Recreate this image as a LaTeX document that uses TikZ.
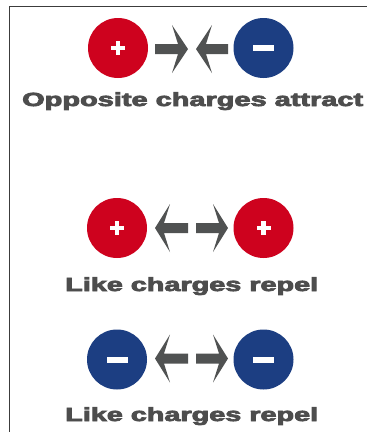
\documentclass[tikz,border=0pt]{standalone}
\usepackage{fontspec}
\usepackage{graphicx}
\newfontfamily\heavy{Liberation Sans}[BoldFeatures={FakeBold=3.6}]
\definecolor{pred}{RGB}{206,2,30}
\definecolor{nblue}{RGB}{28,62,130}
\definecolor{agray}{RGB}{80,82,82}
\definecolor{tgray}{RGB}{77,77,77}
\definecolor{fgray}{RGB}{60,60,60}
\tikzset{
  chg/.style={circle, minimum size=60pt, inner sep=0pt, draw=none},
  poschg/.style={chg, fill=pred},
  negchg/.style={chg, fill=nblue},
  lbl/.style={anchor=base west, inner sep=0pt, text=tgray, font=\heavy\bfseries\fontsize{19}{19}\selectfont},
  arrshape/.style={fill=agray, draw=none}
}
\newcommand{\plussign}[1]{%
  \fill[white] ($(#1)+(-7,-2.3)$) rectangle ($(#1)+(7,2.3)$);
  \fill[white] ($(#1)+(-2.3,-7)$) rectangle ($(#1)+(2.3,7)$);}
\newcommand{\minussign}[1]{%
  \fill[white] ($(#1)+(-10.5,-3)$) rectangle ($(#1)+(10.5,3)$);}
% right-pointing arrow: #1 shaft start, #2 barb x, #3 tip x, #4 center y
\newcommand{\rarr}[4]{%
  \fill[arrshape] (#1,#4-5) -- (#2+6,#4-5) -- (#2,#4-24) -- (#3,#4) -- (#2,#4+24) -- (#2+6,#4+5) -- (#1,#4+5) -- cycle;}
% left-pointing arrow: #1 shaft end, #2 barb x, #3 tip x, #4 center y
\newcommand{\larr}[4]{%
  \fill[arrshape] (#1,#4-5) -- (#2-6,#4-5) -- (#2,#4-24) -- (#3,#4) -- (#2,#4+24) -- (#2-6,#4+5) -- (#1,#4+5) -- cycle;}
\usetikzlibrary{calc}
\begin{document}
\begin{tikzpicture}[x=1pt,y=-1pt]
\useasboundingbox (0,0) rectangle (367,432);
\fill[white] (0,0) rectangle (367,432);
% frame
\draw[fgray, line width=1.6pt] (9.5,432) -- (9.5,6.5) -- (367,6.5);

% row 1
\node[poschg] (p1) at (118,48) {};
\node[negchg] (n1) at (263.5,48) {};
\plussign{p1}
\minussign{n1}
\rarr{155}{172}{188}{49}
\larr{228}{212}{196}{49}
\node[lbl] (t1) at (22,106) {\resizebox{341pt}{\height}{Opposite charges attract}};

% row 2
\node[poschg] (p2) at (117,228) {};
\node[poschg] (p3) at (263.5,228) {};
\plussign{p2}
\plussign{p3}
\larr{188}{170}{155}{228}
\rarr{196}{213}{228}{228}
\node[lbl] (t2) at (65,291) {\resizebox{253pt}{\height}{Like charges repel}};

% row 3
\node[negchg] (n2) at (117,359.5) {};
\node[negchg] (n3) at (263.5,359.5) {};
\minussign{n2}
\minussign{n3}
\larr{188}{170}{155}{358.5}
\rarr{196}{213}{228}{358.5}
\node[lbl] (t3) at (65,421) {\resizebox{253pt}{\height}{Like charges repel}};
\end{tikzpicture}
\end{document}
